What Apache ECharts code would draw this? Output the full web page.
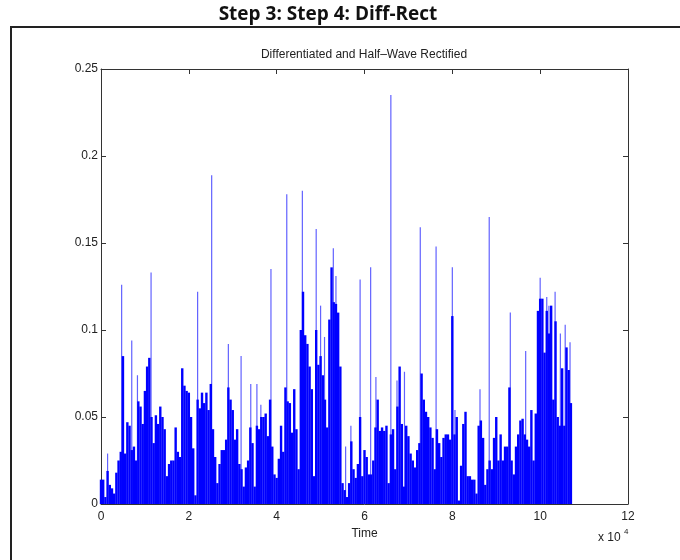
<!DOCTYPE html>
<html>
<head>
<meta charset="utf-8">
<script src="https://cdn.jsdelivr.net/npm/echarts@6/dist/echarts.min.js"></script>
<style>
  html, body { margin: 0; background: #fff; }
  #chart { width: 680px; height: 560px; }
</style>
</head>
<body>
<div id="chart"></div>
<script>
// time in units of 10^4 samples, envelope read every 0.05
const sampleStep = 0.05;
const envelope = [
  0.014, 0.014, 0.004, 0.019, 0.011, 0.009, 0.006, 0.018, 0.025, 0.030,
  0.085, 0.029, 0.047, 0.045, 0.031, 0.033, 0.025, 0.059, 0.056, 0.046,
  0.065, 0.079, 0.084, 0.050, 0.035, 0.051, 0.046, 0.056, 0.050, 0.043,
  0.016, 0.023, 0.025, 0.025, 0.044, 0.030, 0.027, 0.078, 0.068, 0.065,
  0.064, 0.050, 0.032, 0.005, 0.060, 0.055, 0.064, 0.058, 0.064, 0.054,
  0.069, 0.043, 0.027, 0.012, 0.023, 0.031, 0.031, 0.037, 0.067, 0.060,
  0.054, 0.037, 0.043, 0.023, 0.020, 0.010, 0.021, 0.025, 0.044, 0.035,
  0.010, 0.045, 0.043, 0.050, 0.050, 0.052, 0.039, 0.060, 0.033, 0.017,
  0.015, 0.026, 0.045, 0.030, 0.067, 0.059, 0.058, 0.041, 0.066, 0.043,
  0.020, 0.100, 0.122, 0.097, 0.092, 0.079, 0.066, 0.016, 0.100, 0.080,
  0.085, 0.074, 0.060, 0.044, 0.106, 0.136, 0.116, 0.115, 0.110, 0.079,
  0.012, 0.008, 0.004, 0.012, 0.036, 0.020, 0.015, 0.023, 0.050, 0.016,
  0.031, 0.027, 0.017, 0.017, 0.025, 0.044, 0.060, 0.042, 0.044, 0.042,
  0.045, 0.012, 0.040, 0.043, 0.020, 0.056, 0.079, 0.046, 0.010, 0.045,
  0.039, 0.029, 0.025, 0.021, 0.031, 0.035, 0.075, 0.060, 0.053, 0.050,
  0.044, 0.038, 0.020, 0.043, 0.035, 0.027, 0.038, 0.040, 0.040, 0.037,
  0.108, 0.040, 0.050, 0.002, 0.022, 0.046, 0.053, 0.016, 0.016, 0.014,
  0.014, 0.006, 0.045, 0.048, 0.038, 0.011, 0.020, 0.025, 0.020, 0.038,
  0.050, 0.025, 0.040, 0.025, 0.033, 0.033, 0.067, 0.025, 0.017, 0.033,
  0.040, 0.048, 0.049, 0.040, 0.037, 0.033, 0.054, 0.025, 0.052, 0.111,
  0.118, 0.118, 0.087, 0.111, 0.098, 0.114, 0.060, 0.105, 0.050, 0.045,
  0.078, 0.045, 0.090, 0.077, 0.058
];
// isolated thin peaks
const spikeTimes = [
  0.15, 0.47, 0.70, 0.83, 1.14, 2.20, 2.52, 2.90, 3.19, 3.41,
  3.55, 3.64, 3.87, 4.23, 4.585, 4.90, 5.00, 5.09, 5.29, 5.35,
  5.57, 5.69, 5.90, 6.14, 6.26, 6.60, 6.74, 6.91, 7.27, 7.63,
  8.00, 8.06, 8.63, 8.84, 9.32, 9.67, 10.00, 10.15, 10.20, 10.34,
  10.46, 10.57, 10.68
];
const spikeValues = [
  0.029, 0.126, 0.094, 0.074, 0.133, 0.122, 0.189, 0.092, 0.085, 0.069,
  0.069, 0.057, 0.135, 0.178, 0.180, 0.158, 0.114, 0.096, 0.147, 0.131,
  0.033, 0.045, 0.129, 0.136, 0.073, 0.235, 0.071, 0.076, 0.159, 0.148,
  0.136, 0.054, 0.066, 0.165, 0.110, 0.088, 0.130, 0.119, 0.114, 0.122,
  0.098, 0.103, 0.093
];
const xTicks = [0, 2, 4, 6, 8, 10, 12];
const yTicks = [0, 0.05, 0.1, 0.15, 0.2, 0.25];

const axisColor = "#333";
const labelFont = "Liberation Sans";

const chart = echarts.init(document.getElementById("chart"));

function xAxisDef(position, showLabels) {
  return {
    type: "value",
    position: position,
    min: xTicks[0],
    max: xTicks[xTicks.length - 1],
    interval: xTicks[1] - xTicks[0],
    axisLine: { show: true, onZero: false, lineStyle: { color: axisColor, width: 1 } },
    axisTick: { show: true, inside: true, length: 5, lineStyle: { color: axisColor } },
    axisLabel: { show: showLabels, color: "#222", fontSize: 12, fontFamily: labelFont, margin: 7 },
    splitLine: { show: false },
  };
}

function yAxisDef(position, showLabels) {
  return {
    type: "value",
    position: position,
    min: yTicks[0],
    max: yTicks[yTicks.length - 1],
    interval: yTicks[1] - yTicks[0],
    axisLine: { show: true, onZero: false, lineStyle: { color: axisColor, width: 1 } },
    axisTick: { show: true, inside: true, length: 5, lineStyle: { color: axisColor } },
    axisLabel: { show: showLabels, color: "#222", fontSize: 12, fontFamily: labelFont, margin: 3 },
    splitLine: { show: false },
  };
}

const bottomAxis = xAxisDef("bottom", true);
bottomAxis.name = "Time";
bottomAxis.nameLocation = "middle";
bottomAxis.nameGap = 22;
bottomAxis.nameTextStyle = { color: "#222", fontSize: 12, fontFamily: labelFont };

chart.setOption({
  animation: false,
  backgroundColor: "#fff",
  grid: { left: 101, right: 52, top: 69, bottom: 56 },
  xAxis: [bottomAxis, xAxisDef("top", false)],
  yAxis: [yAxisDef("left", true), yAxisDef("right", false)],
  graphic: [
    {
      type: "rect",
      shape: { x: 11, y: 27, width: 700, height: 560 },
      style: { fill: "none", stroke: "#222", lineWidth: 2 },
      silent: true,
    },
    {
      type: "text",
      x: 328,
      y: 15,
      style: {
        text: "Step 3: Step 4: Diff-Rect",
        font: "bold 19px 'Open Sans'",
        fill: "#111",
        textAlign: "center",
        textVerticalAlign: "middle",
      },
    },
    {
      type: "text",
      x: 364,
      y: 55,
      style: {
        text: "Differentiated and Half\u2013Wave Rectified",
        font: "12px 'Liberation Sans'",
        fill: "#222",
        textAlign: "center",
        textVerticalAlign: "middle",
      },
    },
    {
      type: "text",
      x: 598,
      y: 538,
      style: {
        text: "x 10",
        font: "12px 'Liberation Sans'",
        fill: "#222",
        textAlign: "left",
        textVerticalAlign: "middle",
      },
    },
    {
      type: "text",
      x: 624,
      y: 532,
      style: {
        text: "4",
        font: "8px 'Liberation Sans'",
        fill: "#222",
        textAlign: "left",
        textVerticalAlign: "middle",
      },
    },
  ],
  series: [
    {
      name: "peaks",
      type: "bar",
      xAxisIndex: 1,
      yAxisIndex: 0,
      barWidth: 1.2,
      itemStyle: { color: "#6262ff" },
      data: spikeTimes.map((t, i) => [t, spikeValues[i]]),
    },
    {
      name: "envelope",
      type: "bar",
      xAxisIndex: 0,
      yAxisIndex: 0,
      barWidth: 2.4,
      itemStyle: { color: "#0000ff" },
      data: envelope.map((v, i) => [+(i * sampleStep).toFixed(2), v]),
    },
  ],
});
</script>
</body>
</html>
